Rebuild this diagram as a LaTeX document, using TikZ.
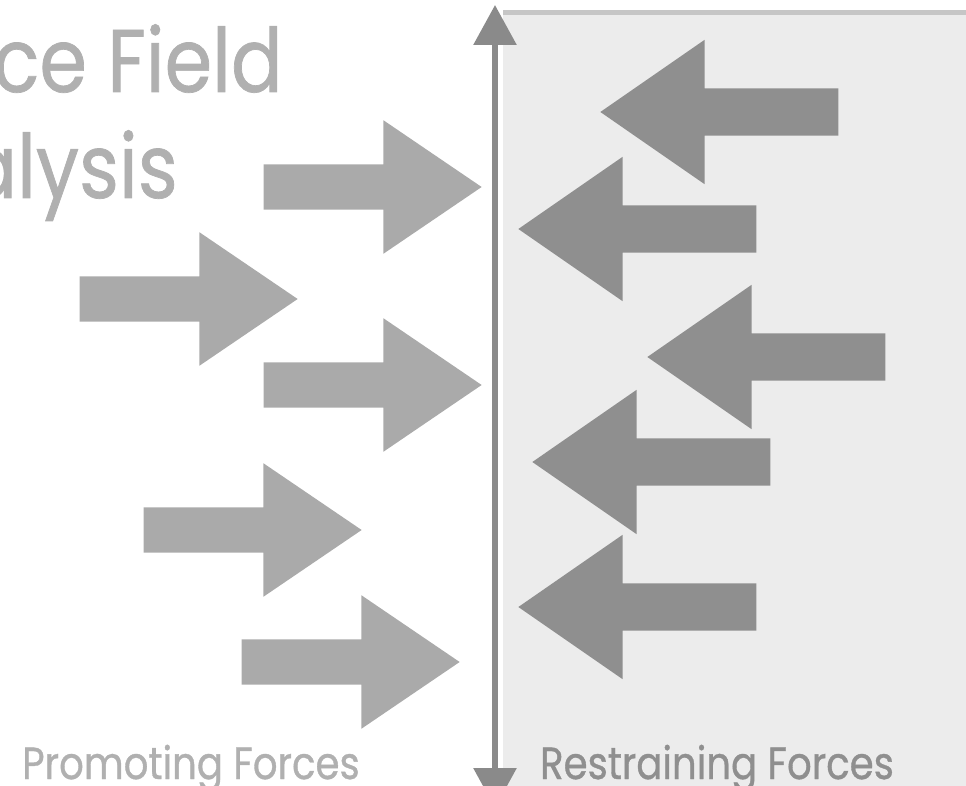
\documentclass[tikz,border=0pt]{standalone}
\usepackage{fontspec}
\setmainfont{Poppins}
\newfontfamily\forcefont[FakeStretch=0.86,FakeBold=0.8]{Poppins}
\usetikzlibrary{arrows.meta,shapes.arrows}
\definecolor{titlegray}{HTML}{B0B0B0}
\definecolor{promogray}{HTML}{AAAAAA}
\definecolor{restrgray}{HTML}{8F8F8F}
\definecolor{panelgray}{HTML}{ECECEC}
\definecolor{edgegray}{HTML}{C6C6C6}
\definecolor{axisgray}{HTML}{8A8A8A}

\begin{document}
\begin{tikzpicture}[x=1pt, y=-1pt, >={Triangle[width=42pt,length=40pt]},
  pushR/.style={single arrow, fill=promogray, inner xsep=0pt, inner ysep=22.5pt, minimum height=218pt, single arrow head extend=44pt, single arrow tip angle=68.4, anchor=tip},
  holdL/.style={single arrow, fill=restrgray, inner xsep=0pt, inner ysep=23.5pt, minimum height=238pt, single arrow head extend=48.5pt, single arrow tip angle=69.4, shape border rotate=180, anchor=tip},
  caption/.style={font=\forcefont\fontsize{45}{48}\selectfont, inner sep=0pt, anchor=base}]
\useasboundingbox (0,0) rectangle (966,786);
\clip (0,0) rectangle (966,786);
% panel for the restraining side
\fill[panelgray] (503,14) rectangle (966,786);
\draw[edgegray, line width=5pt] (503,13) -- (966,13);
% title, cut at the left edge
\node[font=\forcefont\fontsize{89}{96}\selectfont, text=titlegray, inner sep=0pt, anchor=base east] (ttl1) at (283,92) {Force Field};
\node[font=\forcefont\fontsize{89}{96}\selectfont, text=titlegray, inner sep=0pt, anchor=base east] (ttl2) at (178,198) {Analysis};
% promoting forces
\foreach \n/\x/\y in {1/482/187, 2/298/299, 3/482/385, 4/362/530, 5/460/662}
  \node[pushR] (p\n) at (\x,\y) {};
% restraining forces
\foreach \n/\x/\y in {1/600/112, 2/518/229, 3/647/357, 4/532/462, 5/518/607}
  \node[holdL] (r\n) at (\x,\y) {};
% the line of balance
\coordinate (top) at (495,5);
\coordinate (bot) at (495,808);
\draw[<->, axisgray, line width=6pt] (top) -- (bot);
\node[caption, text=titlegray] (promo) at (191,779) {Promoting Forces};
\node[caption, text=restrgray] (restr) at (717,779) {Restraining Forces};
\end{tikzpicture}
\end{document}
